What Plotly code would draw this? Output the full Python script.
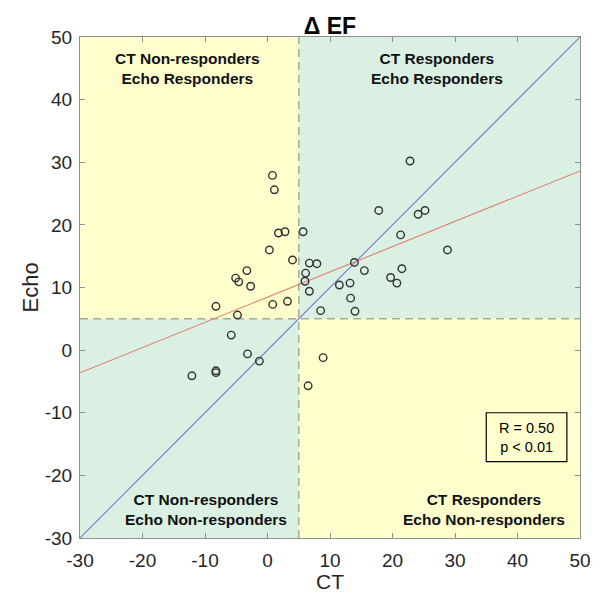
import numpy as np
import plotly.graph_objects as go

# Change in ejection fraction measured by CT and by echocardiography
ct = [0.8, 1.1, 1.75, 2.8, 5.7, 0.3, 4.0, 6.7, 7.9, -3.3, 6.1, -5.1, -4.6, 6.0,
      -2.7, 6.7, -8.25, 0.84, 3.2, 8.5, -4.8, -5.8,
      22.8, 17.8, 24.1, 25.2, 21.3, 28.8, 13.9, 15.5, 21.5, 19.7, 20.7, 11.5,
      13.2, 13.3, 14.0,
      -3.2, -1.3, -12.1, -8.25, -8.25, 8.9, 6.5]
echo = [27.9, 25.6, 18.7, 18.9, 18.9, 16.0, 14.4, 13.9, 13.8, 12.7, 12.3, 11.5, 10.9, 11.0,
        10.2, 9.4, 7.0, 7.3, 7.8, 6.3, 5.6, 2.4,
        30.2, 22.3, 21.7, 22.3, 18.4, 16.0, 14.0, 12.7, 13.0, 11.6, 10.7, 10.4,
        10.7, 8.3, 6.2,
        -0.6, -1.75, -4.1, -3.3, -3.6, -1.2, -5.7]

axis_range = [-30, 50]
tick_values = [-30, -20, -10, 0, 10, 20, 30, 40, 50]
tick_text = ["-30", "-20", "-10", "0", "10", "20", "30", "40", "50"]
threshold = 5  # responder cut-off (absolute EF change, %)

quadrant_labels = [
    ("CT Non-responders<br>Echo Responders", -12.8, 45.0),
    ("CT Responders<br>Echo Responders", 27.1, 45.0),
    ("CT Non-responders<br>Echo Non-responders", -9.8, -25.5),
    ("CT Responders<br>Echo Non-responders", 34.6, -25.5),
]
stats_text = "R = 0.50<br>p &lt; 0.01"

YELLOW = "rgb(255,255,206)"
GREEN = "rgb(218,240,227)"
FONT = "Liberation Sans, Arial, Helvetica, sans-serif"

# least-squares fit of Echo on CT
slope, intercept = np.polyfit(ct, echo, 1)
fit_x = np.array(axis_range, dtype=float)
fit_y = slope * fit_x + intercept

fig = go.Figure()

# identity line
fig.add_trace(go.Scatter(x=axis_range, y=axis_range, mode="lines",
                         line=dict(color="rgb(112,128,205)", width=1.1),
                         hoverinfo="skip", showlegend=False))
# regression line
fig.add_trace(go.Scatter(x=fit_x, y=fit_y, mode="lines",
                         line=dict(color="rgb(222,128,110)", width=1.1),
                         hoverinfo="skip", showlegend=False))
# patients
fig.add_trace(go.Scatter(x=ct, y=echo, mode="markers",
                         marker=dict(symbol="circle-open", size=7.5, color="#333333",
                                     line=dict(width=1.4)),
                         showlegend=False))

lo, hi = axis_range
shapes = [
    dict(type="rect", x0=lo, x1=threshold, y0=threshold, y1=hi, fillcolor=YELLOW, line_width=0, layer="below"),
    dict(type="rect", x0=threshold, x1=hi, y0=threshold, y1=hi, fillcolor=GREEN, line_width=0, layer="below"),
    dict(type="rect", x0=lo, x1=threshold, y0=lo, y1=threshold, fillcolor=GREEN, line_width=0, layer="below"),
    dict(type="rect", x0=threshold, x1=hi, y0=lo, y1=threshold, fillcolor=YELLOW, line_width=0, layer="below"),
    dict(type="line", x0=threshold, x1=threshold, y0=lo, y1=hi, layer="below",
         line=dict(color="rgba(110,110,85,0.55)", width=1.5, dash="8px,5px")),
    dict(type="line", x0=lo, x1=hi, y0=threshold, y1=threshold, layer="below",
         line=dict(color="rgba(110,110,85,0.55)", width=1.5, dash="8px,5px")),
    # statistics box
    dict(type="rect", x0=35.0, x1=47.9, y0=-17.8, y1=-10.0, fillcolor=YELLOW,
         line=dict(color="black", width=1.2), layer="above"),
]

annotations = []
for text, x, y in quadrant_labels:
    annotations.append(dict(text="<b>" + text + "</b>", x=x, y=y, xref="x", yref="y",
                            showarrow=False, font=dict(family=FONT, size=15.5, color="#111111")))
annotations.append(dict(text=stats_text, x=41.45, y=-13.9, xref="x", yref="y",
                        showarrow=False, font=dict(family=FONT, size=14.5, color="black")))

# axis titles
annotations.append(dict(text="CT", x=0.5, y=-0.087, xref="paper", yref="paper",
                        xanchor="center", yanchor="middle", showarrow=False,
                        font=dict(family=FONT, size=21, color="#262626")))
annotations.append(dict(text="Echo", x=-0.1, y=0.5, xref="paper", yref="paper",
                        xanchor="center", yanchor="middle", textangle=-90, showarrow=False,
                        font=dict(family=FONT, size=22, color="#262626")))

axis_common = dict(range=axis_range, tickvals=tick_values, ticktext=tick_text,
                   showgrid=False, zeroline=False, automargin=False,
                   showline=True, linecolor="#8f8f8f", linewidth=1, mirror="ticks",
                   ticks="inside", ticklen=5, tickcolor="#8f8f8f",
                   tickfont=dict(family=FONT, size=19, color="#262626"))

fig.update_layout(
    width=600, height=596,
    margin=dict(l=80, r=20, t=37, b=58),
    paper_bgcolor="white", plot_bgcolor="white",
    shapes=shapes, annotations=annotations,
    title=dict(text="<b>\u0394 EF</b>", x=0.55, xanchor="center", y=1 - 26 / 596, yanchor="middle",
               font=dict(family=FONT, size=23, color="black")),
    xaxis=dict(**axis_common, ticklabelstandoff=5),
    yaxis=dict(**axis_common, ticklabelstandoff=3),
)

fig.write_html("out.html")
